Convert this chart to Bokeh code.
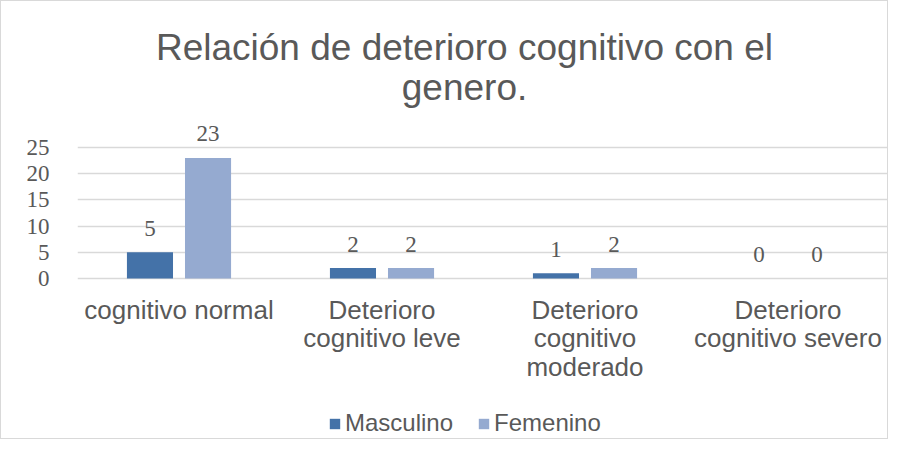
from bokeh.plotting import figure
from bokeh.models import ColumnDataSource, LabelSet, Label, Legend, LegendItem, Range1d, FactorRange
from bokeh.transform import dodge
from bokeh.core.properties import value
from bokeh.embed import file_html
from bokeh.resources import INLINE

categories = ["cognitivo normal", "Deterioro\ncognitivo leve",
              "Deterioro\ncognitivo\nmoderado", "Deterioro\ncognitivo severo"]
masculino = [5, 2, 1, 0]
femenino = [23, 2, 2, 0]
series_names = ["Masculino", "Femenino"]
y_ticks = [0, 5, 10, 15, 20, 25]
title_lines = ["Relación de deterioro cognitivo con el", "genero."]

TEXT = "#595959"
C_M = "#4472A8"
C_F = "#95AAD0"
GRID = "#D9D9D9"

# layout: pixel rows of the value axis top (25) and bottom (0) inside a 439px tall frame
W, H = 888, 439
PX_TOP, PX_ZERO = 146, 277
ppu = (PX_ZERO - PX_TOP) / y_ticks[-1]
y_hi = y_ticks[-1] + PX_TOP / ppu
y_lo = -(H - PX_ZERO) / ppu

src = ColumnDataSource(dict(cat=categories, m=masculino, f=femenino,
                            ml=[str(v) for v in masculino],
                            fl=[str(v) for v in femenino]))

# one row per text line of each category label (each line centred on its own)
LINE_H = 28.5
lc, lt, lo, lz = [], [], [], []
for c in categories:
    for i, line in enumerate(c.split("\n")):
        lc.append(c)
        lt.append(line)
        lo.append(16 + i * LINE_H)
        lz.append(0)
lines_src = ColumnDataSource(dict(cat=lc, txt=lt, off=lo, zero=lz))

p = figure(width=W, height=H, x_range=FactorRange(*categories, range_padding=0),
           y_range=Range1d(y_lo, y_hi), output_backend="svg", toolbar_location=None,
           min_border_left=76, min_border_right=0, min_border_top=0, min_border_bottom=0,
           styles={"border": "1px solid #D9D9D9"})
p.outline_line_color = None
p.title.visible = False

off = 0.143
w = 0.227
rm = p.vbar(x=dodge("cat", -off, range=p.x_range), top="m", width=w, source=src,
            fill_color=C_M, line_color=None)
rf = p.vbar(x=dodge("cat", off, range=p.x_range), top="f", width=w, source=src,
            fill_color=C_F, line_color=None)

for field, lab, o in (("m", "ml", -off), ("f", "fl", off)):
    p.add_layout(LabelSet(x=dodge("cat", o, range=p.x_range), y=field, text=lab, source=src,
                          text_align="center", text_baseline="middle", y_offset=24,
                          text_font=value("Liberation Serif"), text_font_size="23px",
                          text_color=TEXT))

# category labels under the axis
p.text(x="cat", y="zero", text="txt", y_offset="off", source=lines_src,
       text_align="center", text_baseline="top",
       text_font=value("Liberation Sans"), text_font_size="26px", text_color=TEXT)

# two-line chart title
for txt, dy in zip(title_lines, (100, 60)):
    p.add_layout(Label(x=387, x_units="screen", y=y_ticks[-1], y_units="data", y_offset=dy,
                       text=txt, text_align="center", text_baseline="alphabetic",
                       text_font="Liberation Sans", text_font_size="37px",
                       text_color=TEXT))

p.yaxis.ticker = y_ticks
p.yaxis.axis_line_color = None
p.yaxis.major_tick_line_color = None
p.yaxis.minor_tick_line_color = None
p.yaxis.major_label_text_font = "Liberation Serif"
p.yaxis.major_label_text_font_size = "23px"
p.yaxis.major_label_text_color = TEXT
p.yaxis.major_label_standoff = 22

p.xaxis.visible = False

p.xgrid.grid_line_color = None
p.ygrid.ticker = y_ticks
p.ygrid.grid_line_color = GRID
p.ygrid.grid_line_width = 1.5

legend = Legend(items=[LegendItem(label=series_names[0], renderers=[rm]),
                       LegendItem(label=series_names[1], renderers=[rf])],
                orientation="horizontal", location=(251, 3),
                label_text_font="Liberation Sans", label_text_font_size="24px",
                label_text_color=TEXT, glyph_width=13, glyph_height=13,
                label_standoff=4, spacing=24, padding=4, margin=0,
                border_line_color=None, background_fill_alpha=0)
p.add_layout(legend, "center")

open("out.html", "w").write(file_html(p, INLINE))
